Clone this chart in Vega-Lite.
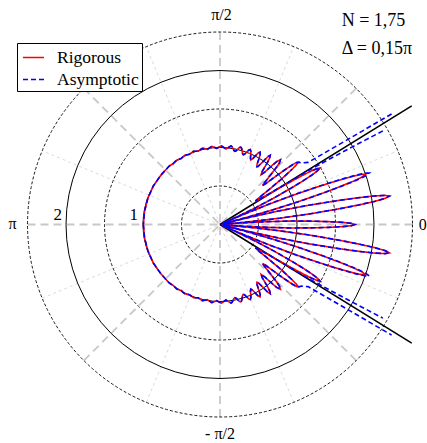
{
"$schema":"https://vega.github.io/schema/vega-lite/v6.json",
"width":427,"height":443,"padding":0,"autosize":{"type":"none"},
"background":"white",
"config":{"view":{"stroke":null},"font":"Liberation Serif, Times New Roman, DejaVu Serif, serif",
 "legend":{"orient":"none","legendX":17,"legendY":43,"title":null,"fillColor":"white","strokeColor":"black","strokeWidth":1,"padding":3,"labelFont":"Liberation Serif, Times New Roman, DejaVu Serif, serif","labelFontSize":17.5,"labelColor":"black","symbolType":"stroke","symbolSize":441,"symbolStrokeWidth":1.5,"symbolOffset":2,"labelOffset":12,"rowPadding":2,"cornerRadius":0}},
"datasets":{
"red":[
{"t":0,"x":1.750,"y":0},{"t":0.5,"x":1.706,"y":0.015},{"t":1,"x":1.593,"y":0.028},{"t":1.5,"x":1.418,"y":0.037},{"t":2,"x":1.224,"y":0.043},{"t":2.75,"x":0.927,"y":0.045},{"t":3.5,"x":0.612,"y":0.037},{"t":4.2,"x":0.279,"y":0.021},{"t":4.75,"x":0.030,"y":0.002},{"t":5.3,"x":0.355,"y":0.033},{"t":6,"x":0.777,"y":0.082},{"t":6.75,"x":1.174,"y":0.139},{"t":7.5,"x":1.548,"y":0.204},{"t":8,"x":1.788,"y":0.251},{"t":8.5,"x":2.007,"y":0.300},{"t":9,"x":2.147,"y":0.340},{"t":9.5,"x":2.199,"y":0.368},{"t":10,"x":2.141,"y":0.378},{"t":10.5,"x":1.995,"y":0.370},{"t":11,"x":1.773,"y":0.345},{"t":11.5,"x":1.530,"y":0.311},{"t":12.25,"x":1.155,"y":0.251},{"t":13,"x":0.761,"y":0.176},{"t":13.7,"x":0.347,"y":0.085},{"t":14.25,"x":0.029,"y":0.007},{"t":14.8,"x":0.309,"y":0.082},{"t":15.5,"x":0.675,"y":0.187},{"t":16.25,"x":1.018,"y":0.297},{"t":17,"x":1.339,"y":0.409},{"t":17.5,"x":1.545,"y":0.487},{"t":18,"x":1.731,"y":0.562},{"t":18.5,"x":1.849,"y":0.619},{"t":19,"x":1.891,"y":0.651},{"t":19.5,"x":1.838,"y":0.651},{"t":20,"x":1.710,"y":0.622},{"t":20.5,"x":1.517,"y":0.567},{"t":21,"x":1.307,"y":0.502},{"t":21.75,"x":0.985,"y":0.393},{"t":22.5,"x":0.647,"y":0.268},{"t":23.2,"x":0.294,"y":0.126},{"t":23.75,"x":0.027,"y":0.012},{"t":24.4,"x":0.219,"y":0.099},{"t":25.25,"x":0.470,"y":0.222},{"t":26.2,"x":0.709,"y":0.349},{"t":27.1,"x":0.926,"y":0.474},{"t":27.7,"x":1.071,"y":0.562},{"t":28.3,"x":1.197,"y":0.645},{"t":28.9,"x":1.269,"y":0.701},{"t":29.5,"x":1.297,"y":0.734},{"t":30,"x":1.256,"y":0.725},{"t":30.5,"x":1.163,"y":0.685},{"t":31,"x":0.986,"y":0.592},{"t":31.5,"x":0.810,"y":0.496},{"t":32,"x":0.636,"y":0.397},{"t":32.7,"x":0.505,"y":0.324},{"t":33.5,"x":0.459,"y":0.304},{"t":34.5,"x":0.511,"y":0.351},{"t":35.5,"x":0.651,"y":0.465},{"t":36.5,"x":0.804,"y":0.595},{"t":37.5,"x":0.936,"y":0.718},{"t":38,"x":0.993,"y":0.776},{"t":38.5,"x":1.017,"y":0.809},{"t":39,"x":0.995,"y":0.806},{"t":39.5,"x":0.941,"y":0.776},{"t":40.25,"x":0.824,"y":0.698},{"t":41,"x":0.702,"y":0.610},{"t":41.75,"x":0.597,"y":0.533},{"t":42.5,"x":0.553,"y":0.507},{"t":43.25,"x":0.575,"y":0.541},{"t":44,"x":0.626,"y":0.604},{"t":45,"x":0.707,"y":0.707},{"t":46,"x":0.771,"y":0.798},{"t":47,"x":0.784,"y":0.841},{"t":48,"x":0.736,"y":0.817},{"t":48.75,"x":0.659,"y":0.752},{"t":49.5,"x":0.585,"y":0.684},{"t":50.5,"x":0.534,"y":0.648},{"t":51.5,"x":0.548,"y":0.689},{"t":52.5,"x":0.609,"y":0.793},{"t":53.25,"x":0.646,"y":0.865},{"t":54,"x":0.652,"y":0.898},{"t":54.75,"x":0.623,"y":0.882},{"t":55.75,"x":0.552,"y":0.810},{"t":56.75,"x":0.493,"y":0.753},{"t":57.5,"x":0.478,"y":0.751},{"t":58.375,"x":0.481,"y":0.781},{"t":59.25,"x":0.502,"y":0.844},{"t":60.125,"x":0.522,"y":0.909},{"t":61,"x":0.521,"y":0.940},{"t":61.875,"x":0.497,"y":0.930},{"t":62.75,"x":0.459,"y":0.891},{"t":63.625,"x":0.422,"y":0.852},{"t":64.5,"x":0.400,"y":0.839},{"t":65.375,"x":0.395,"y":0.862},{"t":66.25,"x":0.399,"y":0.906},{"t":67.125,"x":0.401,"y":0.951},{"t":68,"x":0.393,"y":0.974},{"t":68.875,"x":0.373,"y":0.966},{"t":69.75,"x":0.347,"y":0.941},{"t":70.625,"x":0.321,"y":0.914},{"t":71.5,"x":0.303,"y":0.906},{"t":72.375,"x":0.293,"y":0.922},{"t":73.25,"x":0.287,"y":0.955},{"t":74.125,"x":0.281,"y":0.989},{"t":75,"x":0.269,"y":1.005},{"t":75.875,"x":0.251,"y":0.999},{"t":76.75,"x":0.230,"y":0.978},{"t":77.625,"x":0.210,"y":0.957},{"t":78.5,"x":0.193,"y":0.951},{"t":79.375,"x":0.181,"y":0.962},{"t":80.25,"x":0.169,"y":0.986},{"t":81.125,"x":0.158,"y":1.009},{"t":82,"x":0.143,"y":1.020},{"t":83.75,"x":0.110,"y":1.001},{"t":85.5,"x":0.077,"y":0.980},{"t":87.25,"x":0.048,"y":1.001},{"t":89,"x":0.018,"y":1.022},{"t":90.75,"x":-0.013,"y":1.006},{"t":92.5,"x":-0.043,"y":0.989},{"t":94.25,"x":-0.074,"y":1.002},{"t":96,"x":-0.107,"y":1.014},{"t":97.75,"x":-0.136,"y":0.996},{"t":99.5,"x":-0.163,"y":0.976},{"t":101.25,"x":-0.196,"y":0.984},{"t":103,"x":-0.229,"y":0.990},{"t":104.75,"x":-0.256,"y":0.971},{"t":106.5,"x":-0.282,"y":0.951},{"t":108.25,"x":-0.314,"y":0.952},{"t":110,"x":-0.346,"y":0.951},{"t":111.75,"x":-0.371,"y":0.931},{"t":113.5,"x":-0.396,"y":0.911},{"t":115.25,"x":-0.427,"y":0.906},{"t":117,"x":-0.459,"y":0.900},{"t":118.75,"x":-0.482,"y":0.879},{"t":120.5,"x":-0.505,"y":0.857},{"t":122.25,"x":-0.534,"y":0.847},{"t":124,"x":-0.564,"y":0.836},{"t":125.75,"x":-0.586,"y":0.814},{"t":127.5,"x":-0.607,"y":0.791},{"t":129.25,"x":-0.634,"y":0.776},{"t":131,"x":-0.660,"y":0.759},{"t":140,"x":-0.766,"y":0.643},{"t":150,"x":-0.866,"y":0.500},{"t":160,"x":-0.937,"y":0.341},{"t":170,"x":-0.980,"y":0.173},{"t":180,"x":-0.995,"y":0},
{"t":-0.5,"x":1.706,"y":-0.015},{"t":-1,"x":1.593,"y":-0.028},{"t":-1.5,"x":1.418,"y":-0.037},{"t":-2,"x":1.224,"y":-0.043},{"t":-2.75,"x":0.927,"y":-0.045},{"t":-3.5,"x":0.612,"y":-0.037},{"t":-4.2,"x":0.279,"y":-0.021},{"t":-4.75,"x":0.030,"y":-0.002},{"t":-5.3,"x":0.355,"y":-0.033},{"t":-6,"x":0.777,"y":-0.082},{"t":-6.75,"x":1.174,"y":-0.139},{"t":-7.5,"x":1.548,"y":-0.204},{"t":-8,"x":1.788,"y":-0.251},{"t":-8.5,"x":2.007,"y":-0.300},{"t":-9,"x":2.147,"y":-0.340},{"t":-9.5,"x":2.199,"y":-0.368},{"t":-10,"x":2.141,"y":-0.378},{"t":-10.5,"x":1.995,"y":-0.370},{"t":-11,"x":1.773,"y":-0.345},{"t":-11.5,"x":1.530,"y":-0.311},{"t":-12.25,"x":1.155,"y":-0.251},{"t":-13,"x":0.761,"y":-0.176},{"t":-13.7,"x":0.347,"y":-0.085},{"t":-14.25,"x":0.029,"y":-0.007},{"t":-14.8,"x":0.309,"y":-0.082},{"t":-15.5,"x":0.675,"y":-0.187},{"t":-16.25,"x":1.018,"y":-0.297},{"t":-17,"x":1.339,"y":-0.409},{"t":-17.5,"x":1.545,"y":-0.487},{"t":-18,"x":1.731,"y":-0.562},{"t":-18.5,"x":1.849,"y":-0.619},{"t":-19,"x":1.891,"y":-0.651},{"t":-19.5,"x":1.838,"y":-0.651},{"t":-20,"x":1.710,"y":-0.622},{"t":-20.5,"x":1.517,"y":-0.567},{"t":-21,"x":1.307,"y":-0.502},{"t":-21.75,"x":0.985,"y":-0.393},{"t":-22.5,"x":0.647,"y":-0.268},{"t":-23.2,"x":0.294,"y":-0.126},{"t":-23.75,"x":0.027,"y":-0.012},{"t":-24.4,"x":0.219,"y":-0.099},{"t":-25.25,"x":0.470,"y":-0.222},{"t":-26.2,"x":0.709,"y":-0.349},{"t":-27.1,"x":0.926,"y":-0.474},{"t":-27.7,"x":1.071,"y":-0.562},{"t":-28.3,"x":1.197,"y":-0.645},{"t":-28.9,"x":1.269,"y":-0.701},{"t":-29.5,"x":1.297,"y":-0.734},{"t":-30,"x":1.256,"y":-0.725},{"t":-30.5,"x":1.163,"y":-0.685},{"t":-31,"x":0.986,"y":-0.592},{"t":-31.5,"x":0.810,"y":-0.496},{"t":-32,"x":0.636,"y":-0.397},{"t":-32.7,"x":0.505,"y":-0.324},{"t":-33.5,"x":0.459,"y":-0.304},{"t":-34.5,"x":0.511,"y":-0.351},{"t":-35.5,"x":0.651,"y":-0.465},{"t":-36.5,"x":0.804,"y":-0.595},{"t":-37.5,"x":0.936,"y":-0.718},{"t":-38,"x":0.993,"y":-0.776},{"t":-38.5,"x":1.017,"y":-0.809},{"t":-39,"x":0.995,"y":-0.806},{"t":-39.5,"x":0.941,"y":-0.776},{"t":-40.25,"x":0.824,"y":-0.698},{"t":-41,"x":0.702,"y":-0.610},{"t":-41.75,"x":0.597,"y":-0.533},{"t":-42.5,"x":0.553,"y":-0.507},{"t":-43.25,"x":0.575,"y":-0.541},{"t":-44,"x":0.626,"y":-0.604},{"t":-45,"x":0.707,"y":-0.707},{"t":-46,"x":0.771,"y":-0.798},{"t":-47,"x":0.784,"y":-0.841},{"t":-48,"x":0.736,"y":-0.817},{"t":-48.75,"x":0.659,"y":-0.752},{"t":-49.5,"x":0.585,"y":-0.684},{"t":-50.5,"x":0.534,"y":-0.648},{"t":-51.5,"x":0.548,"y":-0.689},{"t":-52.5,"x":0.609,"y":-0.793},{"t":-53.25,"x":0.646,"y":-0.865},{"t":-54,"x":0.652,"y":-0.898},{"t":-54.75,"x":0.623,"y":-0.882},{"t":-55.75,"x":0.552,"y":-0.810},{"t":-56.75,"x":0.493,"y":-0.753},{"t":-57.5,"x":0.478,"y":-0.751},{"t":-58.375,"x":0.481,"y":-0.781},{"t":-59.25,"x":0.502,"y":-0.844},{"t":-60.125,"x":0.522,"y":-0.909},{"t":-61,"x":0.521,"y":-0.940},{"t":-61.875,"x":0.497,"y":-0.930},{"t":-62.75,"x":0.459,"y":-0.891},{"t":-63.625,"x":0.422,"y":-0.852},{"t":-64.5,"x":0.400,"y":-0.839},{"t":-65.375,"x":0.395,"y":-0.862},{"t":-66.25,"x":0.399,"y":-0.906},{"t":-67.125,"x":0.401,"y":-0.951},{"t":-68,"x":0.393,"y":-0.974},{"t":-68.875,"x":0.373,"y":-0.966},{"t":-69.75,"x":0.347,"y":-0.941},{"t":-70.625,"x":0.321,"y":-0.914},{"t":-71.5,"x":0.303,"y":-0.906},{"t":-72.375,"x":0.293,"y":-0.922},{"t":-73.25,"x":0.287,"y":-0.955},{"t":-74.125,"x":0.281,"y":-0.989},{"t":-75,"x":0.269,"y":-1.005},{"t":-75.875,"x":0.251,"y":-0.999},{"t":-76.75,"x":0.230,"y":-0.978},{"t":-77.625,"x":0.210,"y":-0.957},{"t":-78.5,"x":0.193,"y":-0.951},{"t":-79.375,"x":0.181,"y":-0.962},{"t":-80.25,"x":0.169,"y":-0.986},{"t":-81.125,"x":0.158,"y":-1.009},{"t":-82,"x":0.143,"y":-1.020},{"t":-83.75,"x":0.110,"y":-1.001},{"t":-85.5,"x":0.077,"y":-0.980},{"t":-87.25,"x":0.048,"y":-1.001},{"t":-89,"x":0.018,"y":-1.022},{"t":-90.75,"x":-0.013,"y":-1.006},{"t":-92.5,"x":-0.043,"y":-0.989},{"t":-94.25,"x":-0.074,"y":-1.002},{"t":-96,"x":-0.107,"y":-1.014},{"t":-97.75,"x":-0.136,"y":-0.996},{"t":-99.5,"x":-0.163,"y":-0.976},{"t":-101.25,"x":-0.196,"y":-0.984},{"t":-103,"x":-0.229,"y":-0.990},{"t":-104.75,"x":-0.256,"y":-0.971},{"t":-106.5,"x":-0.282,"y":-0.951},{"t":-108.25,"x":-0.314,"y":-0.952},{"t":-110,"x":-0.346,"y":-0.951},{"t":-111.75,"x":-0.371,"y":-0.931},{"t":-113.5,"x":-0.396,"y":-0.911},{"t":-115.25,"x":-0.427,"y":-0.906},{"t":-117,"x":-0.459,"y":-0.900},{"t":-118.75,"x":-0.482,"y":-0.879},{"t":-120.5,"x":-0.505,"y":-0.857},{"t":-122.25,"x":-0.534,"y":-0.847},{"t":-124,"x":-0.564,"y":-0.836},{"t":-125.75,"x":-0.586,"y":-0.814},{"t":-127.5,"x":-0.607,"y":-0.791},{"t":-129.25,"x":-0.634,"y":-0.776},{"t":-131,"x":-0.660,"y":-0.759},{"t":-140,"x":-0.766,"y":-0.643},{"t":-150,"x":-0.866,"y":-0.500},{"t":-160,"x":-0.937,"y":-0.341},{"t":-170,"x":-0.980,"y":-0.173},{"t":-180,"x":-0.995,"y":0}
],
"blue":[
{"g":"b3","t":0,"x":1.750,"y":0},{"g":"b3","t":0.5,"x":1.706,"y":0.015},{"g":"b3","t":1,"x":1.593,"y":0.028},{"g":"b3","t":1.5,"x":1.418,"y":0.037},{"g":"b3","t":2,"x":1.224,"y":0.043},{"g":"b3","t":2.75,"x":0.927,"y":0.045},{"g":"b3","t":3.5,"x":0.612,"y":0.037},{"g":"b3","t":4.2,"x":0.279,"y":0.021},{"g":"b3","t":4.75,"x":0.030,"y":0.002},{"g":"b3","t":5.3,"x":0.355,"y":0.033},{"g":"b3","t":6,"x":0.777,"y":0.082},{"g":"b3","t":6.75,"x":1.174,"y":0.139},{"g":"b3","t":7.5,"x":1.548,"y":0.204},{"g":"b3","t":8,"x":1.788,"y":0.251},{"g":"b3","t":8.5,"x":2.007,"y":0.300},{"g":"b3","t":9,"x":2.147,"y":0.340},{"g":"b3","t":9.5,"x":2.199,"y":0.368},{"g":"b3","t":10,"x":2.141,"y":0.378},{"g":"b3","t":10.5,"x":1.995,"y":0.370},{"g":"b3","t":11,"x":1.773,"y":0.345},{"g":"b3","t":11.5,"x":1.530,"y":0.311},{"g":"b3","t":12.25,"x":1.155,"y":0.251},{"g":"b3","t":13,"x":0.761,"y":0.176},{"g":"b3","t":13.7,"x":0.347,"y":0.085},{"g":"b3","t":14.25,"x":0.029,"y":0.007},{"g":"b3","t":14.8,"x":0.317,"y":0.084},{"g":"b3","t":15.5,"x":0.691,"y":0.192},{"g":"b3","t":16.25,"x":1.043,"y":0.304},{"g":"b3","t":17,"x":1.372,"y":0.420},{"g":"b3","t":17.5,"x":1.584,"y":0.499},{"g":"b3","t":18,"x":1.774,"y":0.576},{"g":"b3","t":18.5,"x":1.895,"y":0.634},{"g":"b3","t":19,"x":1.938,"y":0.667},{"g":"b3","t":19.5,"x":1.884,"y":0.667},{"g":"b3","t":20,"x":1.753,"y":0.638},{"g":"b3","t":20.5,"x":1.555,"y":0.582},{"g":"b3","t":21,"x":1.340,"y":0.514},{"g":"b3","t":21.75,"x":1.009,"y":0.403},{"g":"b3","t":22.5,"x":0.663,"y":0.275},{"g":"b3","t":23.2,"x":0.301,"y":0.129},{"g":"b3","t":23.75,"x":0.027,"y":0.012},{"g":"b3","t":24.4,"x":0.219,"y":0.099},{"g":"b3","t":25.25,"x":0.470,"y":0.222},{"g":"b3","t":26.2,"x":0.709,"y":0.349},{"g":"b3","t":27.1,"x":0.926,"y":0.474},{"g":"b3","t":27.7,"x":1.071,"y":0.562},{"g":"b3","t":28.3,"x":1.197,"y":0.645},{"g":"b3","t":28.9,"x":1.269,"y":0.701},{"g":"b3","t":29.5,"x":1.297,"y":0.734},{"g":"b3","t":30,"x":1.256,"y":0.725},{"g":"b3","t":30.5,"x":1.163,"y":0.685},
{"g":"b3","t":-0.5,"x":1.706,"y":-0.015},{"g":"b3","t":-1,"x":1.593,"y":-0.028},{"g":"b3","t":-1.5,"x":1.418,"y":-0.037},{"g":"b3","t":-2,"x":1.224,"y":-0.043},{"g":"b3","t":-2.75,"x":0.927,"y":-0.045},{"g":"b3","t":-3.5,"x":0.612,"y":-0.037},{"g":"b3","t":-4.2,"x":0.279,"y":-0.021},{"g":"b3","t":-4.75,"x":0.030,"y":-0.002},{"g":"b3","t":-5.3,"x":0.355,"y":-0.033},{"g":"b3","t":-6,"x":0.777,"y":-0.082},{"g":"b3","t":-6.75,"x":1.174,"y":-0.139},{"g":"b3","t":-7.5,"x":1.548,"y":-0.204},{"g":"b3","t":-8,"x":1.788,"y":-0.251},{"g":"b3","t":-8.5,"x":2.007,"y":-0.300},{"g":"b3","t":-9,"x":2.147,"y":-0.340},{"g":"b3","t":-9.5,"x":2.199,"y":-0.368},{"g":"b3","t":-10,"x":2.141,"y":-0.378},{"g":"b3","t":-10.5,"x":1.995,"y":-0.370},{"g":"b3","t":-11,"x":1.773,"y":-0.345},{"g":"b3","t":-11.5,"x":1.530,"y":-0.311},{"g":"b3","t":-12.25,"x":1.155,"y":-0.251},{"g":"b3","t":-13,"x":0.761,"y":-0.176},{"g":"b3","t":-13.7,"x":0.347,"y":-0.085},{"g":"b3","t":-14.25,"x":0.029,"y":-0.007},{"g":"b3","t":-14.8,"x":0.317,"y":-0.084},{"g":"b3","t":-15.5,"x":0.691,"y":-0.192},{"g":"b3","t":-16.25,"x":1.043,"y":-0.304},{"g":"b3","t":-17,"x":1.372,"y":-0.420},{"g":"b3","t":-17.5,"x":1.584,"y":-0.499},{"g":"b3","t":-18,"x":1.774,"y":-0.576},{"g":"b3","t":-18.5,"x":1.895,"y":-0.634},{"g":"b3","t":-19,"x":1.938,"y":-0.667},{"g":"b3","t":-19.5,"x":1.884,"y":-0.667},{"g":"b3","t":-20,"x":1.753,"y":-0.638},{"g":"b3","t":-20.5,"x":1.555,"y":-0.582},{"g":"b3","t":-21,"x":1.340,"y":-0.514},{"g":"b3","t":-21.75,"x":1.009,"y":-0.403},{"g":"b3","t":-22.5,"x":0.663,"y":-0.275},{"g":"b3","t":-23.2,"x":0.301,"y":-0.129},{"g":"b3","t":-23.75,"x":0.027,"y":-0.012},{"g":"b3","t":-24.4,"x":0.219,"y":-0.099},{"g":"b3","t":-25.25,"x":0.470,"y":-0.222},{"g":"b3","t":-26.2,"x":0.709,"y":-0.349},{"g":"b3","t":-27.1,"x":0.926,"y":-0.474},{"g":"b3","t":-27.7,"x":1.071,"y":-0.562},{"g":"b3","t":-28.3,"x":1.197,"y":-0.645},{"g":"b3","t":-28.9,"x":1.269,"y":-0.701},{"g":"b3","t":-29.5,"x":1.297,"y":-0.734},{"g":"b3","t":-30,"x":1.256,"y":-0.725},{"g":"b3","t":-30.5,"x":1.163,"y":-0.685},
{"g":"b2","t":29.9,"x":2.115,"y":1.216},{"g":"b2","t":30.4,"x":1.725,"y":1.012},{"g":"b2","t":30.9,"x":1.416,"y":0.847},{"g":"b2","t":31.4,"x":1.144,"y":0.698},{"g":"b2","t":31.6,"x":0.852,"y":0.524},{"g":"b2","t":32,"x":0.636,"y":0.397},{"g":"b2","t":32.7,"x":0.505,"y":0.324},{"g":"b2","t":33.5,"x":0.459,"y":0.304},{"g":"b2","t":34.5,"x":0.511,"y":0.351},{"g":"b2","t":35.5,"x":0.651,"y":0.465},{"g":"b2","t":36.5,"x":0.804,"y":0.595},{"g":"b2","t":37.5,"x":0.936,"y":0.718},
{"g":"b4","t":-29.9,"x":2.115,"y":-1.216},{"g":"b4","t":-30.4,"x":1.725,"y":-1.012},{"g":"b4","t":-30.9,"x":1.416,"y":-0.847},{"g":"b4","t":-31.4,"x":1.144,"y":-0.698},{"g":"b4","t":-31.6,"x":0.852,"y":-0.524},{"g":"b4","t":-32,"x":0.636,"y":-0.397},{"g":"b4","t":-32.7,"x":0.505,"y":-0.324},{"g":"b4","t":-33.5,"x":0.459,"y":-0.304},{"g":"b4","t":-34.5,"x":0.511,"y":-0.351},{"g":"b4","t":-35.5,"x":0.651,"y":-0.465},{"g":"b4","t":-36.5,"x":0.804,"y":-0.595},{"g":"b4","t":-37.5,"x":0.936,"y":-0.718},
{"g":"b1","t":32.8,"x":2.228,"y":1.436},{"g":"b1","t":33.6,"x":1.683,"y":1.118},{"g":"b1","t":34.4,"x":1.361,"y":0.932},{"g":"b1","t":35.2,"x":1.144,"y":0.807},{"g":"b1","t":37,"x":1.062,"y":0.800},{"g":"b1","t":38.5,"x":1.017,"y":0.809},{"g":"b1","t":39,"x":0.995,"y":0.806},{"g":"b1","t":39.5,"x":0.941,"y":0.776},{"g":"b1","t":40.25,"x":0.824,"y":0.698},{"g":"b1","t":41,"x":0.702,"y":0.610},{"g":"b1","t":41.75,"x":0.597,"y":0.533},{"g":"b1","t":42.5,"x":0.553,"y":0.507},{"g":"b1","t":43.25,"x":0.575,"y":0.541},{"g":"b1","t":44,"x":0.626,"y":0.604},{"g":"b1","t":45,"x":0.707,"y":0.707},{"g":"b1","t":46,"x":0.771,"y":0.798},{"g":"b1","t":47,"x":0.784,"y":0.841},{"g":"b1","t":48,"x":0.736,"y":0.817},{"g":"b1","t":48.75,"x":0.659,"y":0.752},{"g":"b1","t":49.5,"x":0.585,"y":0.684},{"g":"b1","t":50.5,"x":0.534,"y":0.648},{"g":"b1","t":51.5,"x":0.548,"y":0.689},{"g":"b1","t":52.5,"x":0.609,"y":0.793},{"g":"b1","t":53.25,"x":0.646,"y":0.865},{"g":"b1","t":54,"x":0.652,"y":0.898},{"g":"b1","t":54.75,"x":0.623,"y":0.882},{"g":"b1","t":55.75,"x":0.552,"y":0.810},{"g":"b1","t":56.75,"x":0.493,"y":0.753},{"g":"b1","t":57.5,"x":0.478,"y":0.751},{"g":"b1","t":58.375,"x":0.481,"y":0.781},{"g":"b1","t":59.25,"x":0.502,"y":0.844},{"g":"b1","t":60.125,"x":0.522,"y":0.909},{"g":"b1","t":61,"x":0.521,"y":0.940},{"g":"b1","t":61.875,"x":0.497,"y":0.930},{"g":"b1","t":62.75,"x":0.459,"y":0.891},{"g":"b1","t":63.625,"x":0.422,"y":0.852},{"g":"b1","t":64.5,"x":0.400,"y":0.839},{"g":"b1","t":65.375,"x":0.395,"y":0.862},{"g":"b1","t":66.25,"x":0.399,"y":0.906},{"g":"b1","t":67.125,"x":0.401,"y":0.951},{"g":"b1","t":68,"x":0.393,"y":0.974},{"g":"b1","t":68.875,"x":0.373,"y":0.966},{"g":"b1","t":69.75,"x":0.347,"y":0.941},{"g":"b1","t":70.625,"x":0.321,"y":0.914},{"g":"b1","t":71.5,"x":0.303,"y":0.906},{"g":"b1","t":72.375,"x":0.293,"y":0.922},{"g":"b1","t":73.25,"x":0.287,"y":0.955},{"g":"b1","t":74.125,"x":0.281,"y":0.989},{"g":"b1","t":75,"x":0.269,"y":1.005},{"g":"b1","t":75.875,"x":0.251,"y":0.999},{"g":"b1","t":76.75,"x":0.230,"y":0.978},{"g":"b1","t":77.625,"x":0.210,"y":0.957},{"g":"b1","t":78.5,"x":0.193,"y":0.951},{"g":"b1","t":79.375,"x":0.181,"y":0.962},{"g":"b1","t":80.25,"x":0.169,"y":0.986},{"g":"b1","t":81.125,"x":0.158,"y":1.009},{"g":"b1","t":82,"x":0.143,"y":1.020},{"g":"b1","t":83.75,"x":0.110,"y":1.001},{"g":"b1","t":85.5,"x":0.077,"y":0.980},{"g":"b1","t":87.25,"x":0.048,"y":1.001},{"g":"b1","t":89,"x":0.018,"y":1.022},{"g":"b1","t":90.75,"x":-0.013,"y":1.006},{"g":"b1","t":92.5,"x":-0.043,"y":0.989},{"g":"b1","t":94.25,"x":-0.074,"y":1.002},{"g":"b1","t":96,"x":-0.107,"y":1.014},{"g":"b1","t":97.75,"x":-0.136,"y":0.996},{"g":"b1","t":99.5,"x":-0.163,"y":0.976},{"g":"b1","t":101.25,"x":-0.196,"y":0.984},{"g":"b1","t":103,"x":-0.229,"y":0.990},{"g":"b1","t":104.75,"x":-0.256,"y":0.971},{"g":"b1","t":106.5,"x":-0.282,"y":0.951},{"g":"b1","t":108.25,"x":-0.314,"y":0.952},{"g":"b1","t":110,"x":-0.346,"y":0.951},{"g":"b1","t":111.75,"x":-0.371,"y":0.931},{"g":"b1","t":113.5,"x":-0.396,"y":0.911},{"g":"b1","t":115.25,"x":-0.427,"y":0.906},{"g":"b1","t":117,"x":-0.459,"y":0.900},{"g":"b1","t":118.75,"x":-0.482,"y":0.879},{"g":"b1","t":120.5,"x":-0.505,"y":0.857},{"g":"b1","t":122.25,"x":-0.534,"y":0.847},{"g":"b1","t":124,"x":-0.564,"y":0.836},{"g":"b1","t":125.75,"x":-0.586,"y":0.814},{"g":"b1","t":127.5,"x":-0.607,"y":0.791},{"g":"b1","t":129.25,"x":-0.634,"y":0.776},{"g":"b1","t":131,"x":-0.660,"y":0.759},{"g":"b1","t":140,"x":-0.766,"y":0.643},{"g":"b1","t":150,"x":-0.866,"y":0.500},{"g":"b1","t":160,"x":-0.937,"y":0.341},{"g":"b1","t":170,"x":-0.980,"y":0.173},{"g":"b1","t":180,"x":-0.995,"y":0},
{"g":"b5","t":-32.8,"x":2.228,"y":-1.436},{"g":"b5","t":-33.6,"x":1.683,"y":-1.118},{"g":"b5","t":-34.4,"x":1.361,"y":-0.932},{"g":"b5","t":-35.2,"x":1.144,"y":-0.807},{"g":"b5","t":-37,"x":1.062,"y":-0.800},{"g":"b5","t":-38.5,"x":1.017,"y":-0.809},{"g":"b5","t":-39,"x":0.995,"y":-0.806},{"g":"b5","t":-39.5,"x":0.941,"y":-0.776},{"g":"b5","t":-40.25,"x":0.824,"y":-0.698},{"g":"b5","t":-41,"x":0.702,"y":-0.610},{"g":"b5","t":-41.75,"x":0.597,"y":-0.533},{"g":"b5","t":-42.5,"x":0.553,"y":-0.507},{"g":"b5","t":-43.25,"x":0.575,"y":-0.541},{"g":"b5","t":-44,"x":0.626,"y":-0.604},{"g":"b5","t":-45,"x":0.707,"y":-0.707},{"g":"b5","t":-46,"x":0.771,"y":-0.798},{"g":"b5","t":-47,"x":0.784,"y":-0.841},{"g":"b5","t":-48,"x":0.736,"y":-0.817},{"g":"b5","t":-48.75,"x":0.659,"y":-0.752},{"g":"b5","t":-49.5,"x":0.585,"y":-0.684},{"g":"b5","t":-50.5,"x":0.534,"y":-0.648},{"g":"b5","t":-51.5,"x":0.548,"y":-0.689},{"g":"b5","t":-52.5,"x":0.609,"y":-0.793},{"g":"b5","t":-53.25,"x":0.646,"y":-0.865},{"g":"b5","t":-54,"x":0.652,"y":-0.898},{"g":"b5","t":-54.75,"x":0.623,"y":-0.882},{"g":"b5","t":-55.75,"x":0.552,"y":-0.810},{"g":"b5","t":-56.75,"x":0.493,"y":-0.753},{"g":"b5","t":-57.5,"x":0.478,"y":-0.751},{"g":"b5","t":-58.375,"x":0.481,"y":-0.781},{"g":"b5","t":-59.25,"x":0.502,"y":-0.844},{"g":"b5","t":-60.125,"x":0.522,"y":-0.909},{"g":"b5","t":-61,"x":0.521,"y":-0.940},{"g":"b5","t":-61.875,"x":0.497,"y":-0.930},{"g":"b5","t":-62.75,"x":0.459,"y":-0.891},{"g":"b5","t":-63.625,"x":0.422,"y":-0.852},{"g":"b5","t":-64.5,"x":0.400,"y":-0.839},{"g":"b5","t":-65.375,"x":0.395,"y":-0.862},{"g":"b5","t":-66.25,"x":0.399,"y":-0.906},{"g":"b5","t":-67.125,"x":0.401,"y":-0.951},{"g":"b5","t":-68,"x":0.393,"y":-0.974},{"g":"b5","t":-68.875,"x":0.373,"y":-0.966},{"g":"b5","t":-69.75,"x":0.347,"y":-0.941},{"g":"b5","t":-70.625,"x":0.321,"y":-0.914},{"g":"b5","t":-71.5,"x":0.303,"y":-0.906},{"g":"b5","t":-72.375,"x":0.293,"y":-0.922},{"g":"b5","t":-73.25,"x":0.287,"y":-0.955},{"g":"b5","t":-74.125,"x":0.281,"y":-0.989},{"g":"b5","t":-75,"x":0.269,"y":-1.005},{"g":"b5","t":-75.875,"x":0.251,"y":-0.999},{"g":"b5","t":-76.75,"x":0.230,"y":-0.978},{"g":"b5","t":-77.625,"x":0.210,"y":-0.957},{"g":"b5","t":-78.5,"x":0.193,"y":-0.951},{"g":"b5","t":-79.375,"x":0.181,"y":-0.962},{"g":"b5","t":-80.25,"x":0.169,"y":-0.986},{"g":"b5","t":-81.125,"x":0.158,"y":-1.009},{"g":"b5","t":-82,"x":0.143,"y":-1.020},{"g":"b5","t":-83.75,"x":0.110,"y":-1.001},{"g":"b5","t":-85.5,"x":0.077,"y":-0.980},{"g":"b5","t":-87.25,"x":0.048,"y":-1.001},{"g":"b5","t":-89,"x":0.018,"y":-1.022},{"g":"b5","t":-90.75,"x":-0.013,"y":-1.006},{"g":"b5","t":-92.5,"x":-0.043,"y":-0.989},{"g":"b5","t":-94.25,"x":-0.074,"y":-1.002},{"g":"b5","t":-96,"x":-0.107,"y":-1.014},{"g":"b5","t":-97.75,"x":-0.136,"y":-0.996},{"g":"b5","t":-99.5,"x":-0.163,"y":-0.976},{"g":"b5","t":-101.25,"x":-0.196,"y":-0.984},{"g":"b5","t":-103,"x":-0.229,"y":-0.990},{"g":"b5","t":-104.75,"x":-0.256,"y":-0.971},{"g":"b5","t":-106.5,"x":-0.282,"y":-0.951},{"g":"b5","t":-108.25,"x":-0.314,"y":-0.952},{"g":"b5","t":-110,"x":-0.346,"y":-0.951},{"g":"b5","t":-111.75,"x":-0.371,"y":-0.931},{"g":"b5","t":-113.5,"x":-0.396,"y":-0.911},{"g":"b5","t":-115.25,"x":-0.427,"y":-0.906},{"g":"b5","t":-117,"x":-0.459,"y":-0.900},{"g":"b5","t":-118.75,"x":-0.482,"y":-0.879},{"g":"b5","t":-120.5,"x":-0.505,"y":-0.857},{"g":"b5","t":-122.25,"x":-0.534,"y":-0.847},{"g":"b5","t":-124,"x":-0.564,"y":-0.836},{"g":"b5","t":-125.75,"x":-0.586,"y":-0.814},{"g":"b5","t":-127.5,"x":-0.607,"y":-0.791},{"g":"b5","t":-129.25,"x":-0.634,"y":-0.776},{"g":"b5","t":-131,"x":-0.660,"y":-0.759},{"g":"b5","t":-140,"x":-0.766,"y":-0.643},{"g":"b5","t":-150,"x":-0.866,"y":-0.500},{"g":"b5","t":-160,"x":-0.937,"y":-0.341},{"g":"b5","t":-170,"x":-0.980,"y":-0.173},{"g":"b5","t":-180,"x":-0.995,"y":0}
],
"circles":[{"x":0,"y":0,"r":0.5,"k":"d"},{"x":0,"y":0,"r":1.5,"k":"d"},{"x":0,"y":0,"r":2.5,"k":"d"},{"x":0,"y":0,"r":1,"k":"s"},{"x":0,"y":0,"r":2,"k":"s"}],
"grid":[
{"k":"major","x":-2.5,"y":0,"x2":2.5,"y2":0},{"k":"major","x":-1.768,"y":-1.768,"x2":1.768,"y2":1.768},{"k":"major","x":0,"y":-2.5,"x2":0,"y2":2.5},{"k":"major","x":1.768,"y":-1.768,"x2":-1.768,"y2":1.768},
{"k":"minor","x":-2.310,"y":-0.957,"x2":2.310,"y2":0.957},{"k":"minor","x":-0.957,"y":-2.310,"x2":0.957,"y2":2.310},{"k":"minor","x":0.957,"y":-2.310,"x2":-0.957,"y2":2.310},{"k":"minor","x":2.310,"y":-0.957,"x2":-2.310,"y2":0.957}
],
"rays":[{"x":0,"y":0,"x2":2.49,"y2":1.54},{"x":0,"y":0,"x2":2.49,"y2":-1.54}],
"labels":[
{"p":"c","text":"0","x":2.632,"y":0},{"p":"c","text":"π/2","x":0.02,"y":2.72},{"p":"c","text":"π","x":-2.695,"y":0.006},{"p":"c","text":"- π/2","x":0,"y":-2.727},
{"p":"r","text":"1","x":-1.065,"y":0.058},{"p":"r","text":"2","x":-2.052,"y":0.058},
{"p":"l","text":"N = 1,75","x":1.58,"y":2.574},{"p":"l","text":"Δ = 0,15π","x":1.58,"y":2.218}
]
},
"encoding":{
 "x":{"field":"x","type":"quantitative","scale":{"domain":[-2.857,2.688],"nice":false,"zero":false},"axis":null},
 "y":{"field":"y","type":"quantitative","scale":{"domain":[-2.838,2.916],"nice":false,"zero":false},"axis":null}
},
"layer":[
{"data":{"name":"grid"},"transform":[{"filter":"datum.k=='minor'"}],"mark":{"type":"rule","color":"#d6d6d6","strokeWidth":0.9,"strokeDash":[3,3]},"encoding":{"x2":{"field":"x2"},"y2":{"field":"y2"}}},
{"data":{"name":"grid"},"transform":[{"filter":"datum.k=='major'"}],"mark":{"type":"rule","color":"#c8c8c8","strokeWidth":1.8,"strokeDash":[8,5]},"encoding":{"x2":{"field":"x2"},"y2":{"field":"y2"}}},
{"data":{"name":"circles"},"transform":[{"filter":"datum.k=='d'"}],"mark":{"type":"point","shape":"circle","filled":false,"stroke":"black","strokeWidth":0.9,"strokeDash":[3,2],"opacity":1},"encoding":{"size":{"field":"r","type":"quantitative","scale":{"type":"pow","exponent":2,"domain":[0,2.5],"range":[0,148225]},"legend":null}}},
{"data":{"name":"circles"},"transform":[{"filter":"datum.k=='s'"}],"mark":{"type":"point","shape":"circle","filled":false,"stroke":"black","strokeWidth":1,"opacity":1},"encoding":{"size":{"field":"r","type":"quantitative","scale":{"type":"pow","exponent":2,"domain":[0,2.5],"range":[0,148225]},"legend":null}}},
{"data":{"name":"rays"},"mark":{"type":"rule","color":"black","strokeWidth":1.5},"encoding":{"x2":{"field":"x2"},"y2":{"field":"y2"}}},
{"data":{"name":"red"},"mark":{"type":"line","strokeWidth":1.6},"encoding":{"order":{"field":"t","type":"quantitative"},
 "color":{"datum":"Rigorous","type":"nominal","scale":{"domain":["Rigorous","Asymptotic"],"range":["#ff0000","#0000ff"]}},
 "strokeDash":{"datum":"Rigorous","type":"nominal","scale":{"domain":["Rigorous","Asymptotic"],"range":[[1,0],[5,3]]}}}},
{"data":{"name":"blue"},"mark":{"type":"line","strokeWidth":1.6},"encoding":{"order":{"field":"t","type":"quantitative"},"detail":{"field":"g"},
 "color":{"datum":"Asymptotic","type":"nominal","scale":{"domain":["Rigorous","Asymptotic"],"range":["#ff0000","#0000ff"]}},
 "strokeDash":{"datum":"Asymptotic","type":"nominal","scale":{"domain":["Rigorous","Asymptotic"],"range":[[1,0],[5,3]]}}}},
{"data":{"name":"labels"},"transform":[{"filter":"datum.p=='c'"}],"mark":{"type":"text","font":"Liberation Serif, Times New Roman, DejaVu Serif, serif","fontSize":16,"align":"center","baseline":"middle","color":"black"},"encoding":{"text":{"field":"text"}}},
{"data":{"name":"labels"},"transform":[{"filter":"datum.p=='r'"}],"mark":{"type":"text","font":"Liberation Serif, Times New Roman, DejaVu Serif, serif","fontSize":17,"align":"right","baseline":"alphabetic","color":"black"},"encoding":{"text":{"field":"text"}}},
{"data":{"name":"labels"},"transform":[{"filter":"datum.p=='l'"}],"mark":{"type":"text","font":"Liberation Serif, Times New Roman, DejaVu Serif, serif","fontSize":18,"align":"left","baseline":"alphabetic","color":"black"},"encoding":{"text":{"field":"text"}}}
]
}
